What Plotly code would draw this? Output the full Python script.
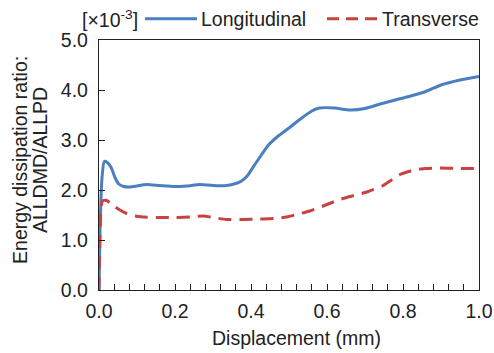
import plotly.graph_objects as go

# Energy dissipation ratio (x10^-3) versus displacement (mm)
disp_long = [0.0, 0.003, 0.008, 0.014, 0.022, 0.032, 0.042, 0.052, 0.065, 0.08, 0.1, 0.125,
             0.16, 0.2, 0.23, 0.266, 0.3, 0.336, 0.36, 0.375, 0.39, 0.405, 0.42, 0.445,
             0.47, 0.5, 0.53, 0.56, 0.58, 0.62, 0.66, 0.7, 0.74, 0.78, 0.82, 0.86, 0.9,
             0.95, 1.0]
ratio_long = [0.0, 1.3, 2.25, 2.57, 2.55, 2.45, 2.25, 2.12, 2.07, 2.06, 2.08, 2.11,
              2.09, 2.07, 2.08, 2.11, 2.09, 2.09, 2.13, 2.18, 2.28, 2.45, 2.62, 2.89,
              3.07, 3.24, 3.42, 3.58, 3.64, 3.64, 3.6, 3.63, 3.72, 3.8, 3.88, 3.97, 4.1,
              4.2, 4.27]

disp_trans = [0.0, 0.003, 0.009, 0.02, 0.037, 0.055, 0.073, 0.095, 0.116, 0.16, 0.2, 0.24,
              0.274, 0.3, 0.336, 0.38, 0.42, 0.46, 0.494, 0.525, 0.555, 0.6, 0.63, 0.66,
              0.705, 0.748, 0.77, 0.792, 0.815, 0.836, 0.86, 0.897, 0.95, 1.0]
ratio_trans = [0.0, 1.2, 1.78, 1.79, 1.69, 1.6, 1.53, 1.48, 1.46, 1.45, 1.45, 1.46,
               1.48, 1.45, 1.41, 1.41, 1.42, 1.43, 1.46, 1.52, 1.58, 1.71, 1.8, 1.87,
               1.96, 2.09, 2.2, 2.31, 2.37, 2.41, 2.43, 2.44, 2.43, 2.43]

series_names = ["Longitudinal", "Transverse"]
y_title_lines = ["Energy dissipation ratio:", "ALLDMD/ALLPD"]
x_title = "Displacement (mm)"
unit_label = "[×10<sup>-3</sup>]"

FONT = "Liberation Sans, Arial, sans-serif"
INK = "#222"
BLUE = "#4a7fc1"
RED = "#c8423f"
FS = 19.5

fig = go.Figure()
fig.add_trace(go.Scatter(x=disp_long, y=ratio_long, mode="lines", name=series_names[0],
                         showlegend=False,
                         line=dict(color=BLUE, width=3, shape="spline", smoothing=0.6)))
fig.add_trace(go.Scatter(x=disp_trans, y=ratio_trans, mode="lines", name=series_names[1],
                         showlegend=False,
                         line=dict(color=RED, width=3, dash="13px,8px",
                                   shape="spline", smoothing=0.6)))

axis_common = dict(showline=True, linecolor=INK, linewidth=1.3, mirror=True,
                   showgrid=False, zeroline=False, ticks="inside", tickcolor=INK,
                   automargin=False,
                   tickfont=dict(family=FONT, size=FS, color=INK))

fig.update_xaxes(range=[0, 1], dtick=0.2, tickformat=".1f", ticklen=6, tickwidth=1.3,
                 ticklabelstandoff=3,
                 minor=dict(dtick=0.04, ticks="inside", ticklen=6, tickcolor=INK,
                            tickwidth=1.3),
                 **axis_common)
fig.update_yaxes(range=[0, 5], dtick=1, tickformat=".1f", ticklen=6, tickwidth=1.3,
                 ticklabelstandoff=6,
                 **axis_common)

txt = dict(family=FONT, size=FS, color=INK)

# axis titles
fig.add_annotation(text=x_title, xref="paper", yref="paper", x=0.52, y=-0.19,
                   xanchor="center", yanchor="middle", showarrow=False, font=txt)
for xp, line in zip([-0.208, -0.155], y_title_lines):
    fig.add_annotation(text=line, xref="paper", yref="paper", x=xp, y=0.52,
                       xanchor="center", yanchor="middle", textangle=-90,
                       showarrow=False, font=txt)

# unit label and legend row above the plot
fig.add_annotation(text=unit_label, xref="paper", yref="paper", x=0.03, y=1.085,
                   xanchor="center", yanchor="middle", showarrow=False, font=txt)

legend_rows = [
    (series_names[0], BLUE, "solid", 0.121, 0.258),
    (series_names[1], RED, "12px,7px", 0.600, 0.734),
]
for name, color, dash, x0, x1 in legend_rows:
    fig.add_shape(type="line", xref="paper", yref="paper", x0=x0, x1=x1,
                  y0=1.085, y1=1.085, line=dict(color=color, width=3, dash=dash))
    fig.add_annotation(text=name, xref="paper", yref="paper", x=x1 + 0.005, y=1.085,
                       xanchor="left", yanchor="middle", showarrow=False, font=txt)

fig.update_layout(
    width=494, height=353,
    margin=dict(l=99, r=15, t=40, b=63, autoexpand=False),
    plot_bgcolor="white", paper_bgcolor="white",
    showlegend=False,
)

fig.write_html("out.html")
